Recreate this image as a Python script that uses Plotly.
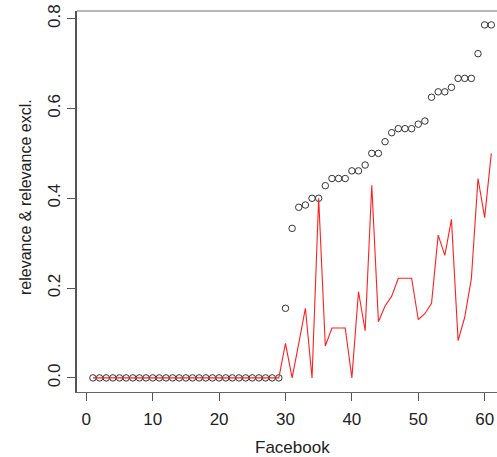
import plotly.graph_objects as go

# Facebook items, indexed 1..61
items = list(range(1, 62))

relevance = [
    0, 0, 0, 0, 0, 0, 0, 0, 0, 0,
    0, 0, 0, 0, 0, 0, 0, 0, 0, 0,
    0, 0, 0, 0, 0, 0, 0, 0, 0,
    0.155, 0.333, 0.380, 0.385, 0.400, 0.400, 0.428, 0.444, 0.444, 0.444,
    0.461, 0.461, 0.474, 0.500, 0.500, 0.526, 0.546, 0.555, 0.555, 0.555,
    0.565, 0.572, 0.625, 0.637, 0.637, 0.647, 0.667, 0.667, 0.667, 0.722,
    0.786, 0.786,
]

relevance_excl = [
    0, 0, 0, 0, 0, 0, 0, 0, 0, 0,
    0, 0, 0, 0, 0, 0, 0, 0, 0, 0,
    0, 0, 0, 0, 0, 0, 0, 0, 0,
    0.077, 0, 0.077, 0.155, 0, 0.400, 0.071, 0.111, 0.111, 0.111,
    0, 0.192, 0.105, 0.429, 0.125, 0.160, 0.182, 0.222, 0.222, 0.222,
    0.130, 0.143, 0.166, 0.318, 0.273, 0.353, 0.083, 0.135, 0.221, 0.444,
    0.357, 0.500,
]

x_ticks = [0, 10, 20, 30, 40, 50, 60]
y_ticks = [0.0, 0.2, 0.4, 0.6, 0.8]

W, H = 497, 457
FONT = "Liberation Sans, Arial, Helvetica, sans-serif"
TXT = "#222222"

fig = go.Figure()

fig.add_trace(go.Scatter(
    x=items, y=relevance, mode="markers",
    marker=dict(symbol="circle-open", size=6.5, color="#333333",
                line=dict(width=1, color="#333333")),
    hoverinfo="x+y",
))
fig.add_trace(go.Scatter(
    x=items, y=relevance_excl, mode="lines",
    line=dict(color="#ff2020", width=1.1),
    hoverinfo="x+y",
))

# plot region margins in pixels
L, R, T, B = 77, 0, 11, 65

x_lo, x_hi = -1.4, 61.86
y_lo, y_hi = -0.0314, 0.817

fig.update_layout(
    width=W, height=H,
    margin=dict(l=L, r=R, t=T, b=B, pad=0),
    paper_bgcolor="white", plot_bgcolor="white",
    showlegend=False,
    font=dict(family=FONT, size=16, color=TXT),
    xaxis=dict(
        range=[x_lo, x_hi], tickvals=x_ticks, ticktext=[str(v) for v in x_ticks],
        ticks="outside", ticklen=8, tickwidth=1, tickcolor="#555555",
        ticklabelstandoff=3,
        showline=True, linecolor="#666666", linewidth=1.3, mirror=False,
        showgrid=False, zeroline=False,
        tickfont=dict(family=FONT, size=17, color=TXT),
    ),
    yaxis=dict(
        range=[y_lo, y_hi], tickvals=y_ticks, ticktext=[f"{v:.1f}" for v in y_ticks],
        ticks="outside", ticklen=8, tickwidth=1, tickcolor="#555555",
        tickangle=-90, ticklabelstandoff=0,
        showline=True, linecolor="#555555", linewidth=1.6,
        showgrid=False, zeroline=False,
        tickfont=dict(family=FONT, size=17, color=TXT),
    ),
    shapes=[
        # top edge of the plot box
        dict(type="line", xref="paper", yref="paper", x0=0, x1=1, y0=1, y1=1,
             line=dict(color="#a0a0a0", width=1.3)),
    ],
    annotations=[
        dict(text="Facebook", x=31.0, xref="x", y=-(447 - (H - B)) / (H - B - T),
             yref="paper", showarrow=False, xanchor="center", yanchor="middle",
             font=dict(family=FONT, size=17, color=TXT)),
        dict(text="relevance & relevance excl.", x=-(L - 25) / (W - L - R),
             xref="paper", y=(H - B - 197) / (H - B - T), yref="paper",
             textangle=-90, showarrow=False,
             xanchor="center", yanchor="middle",
             font=dict(family=FONT, size=16, color=TXT)),
    ],
)

fig.write_html("out.html")
